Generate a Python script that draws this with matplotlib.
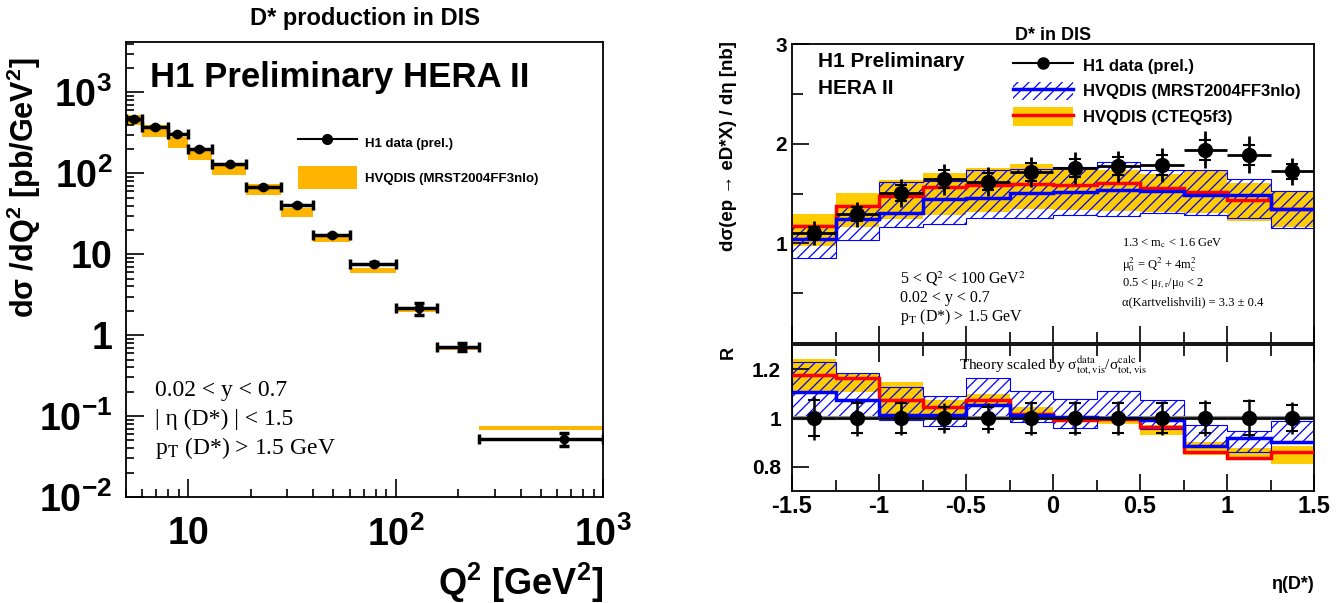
import numpy as np
import matplotlib
matplotlib.use('Agg')
import matplotlib.pyplot as plt
from matplotlib.ticker import LogLocator, NullFormatter, FixedLocator, FixedFormatter, MultipleLocator
from matplotlib.patches import Patch
from matplotlib.lines import Line2D

plt.rcParams['font.family'] = ['Liberation Sans', 'DejaVu Sans']
plt.rcParams['font.weight'] = 'normal'
plt.rcParams['mathtext.fontset'] = 'custom'
plt.rcParams['mathtext.rm'] = 'Liberation Sans:bold'
plt.rcParams['mathtext.it'] = 'Liberation Sans:bold:italic'
plt.rcParams['mathtext.bf'] = 'Liberation Sans:bold'
plt.rcParams['hatch.linewidth'] = 0.9

# ---- left: d sigma / dQ2 ----
q2_edges = [5, 6, 8, 10, 13, 19, 28, 40, 60, 100, 158, 251, 1000]
q2_pts = [5.45, 6.93, 8.85, 11.3, 15.8, 22.9, 33.3, 49.3, 78.4, 129, 208, 646]
dsig_q2 = [472, 373, 304, 199, 129, 67.3, 41.0, 17.1, 7.67, 2.15, 0.716, 0.0516]
dsig_q2_err = [10, 8, 7, 5, 3, 1.5, 1.0, 0.5, 0.25, 0.35, 0.085, 0.0095]
mrst_q2_lo = [395, 282, 208, 148, 95.5, 54, 28.8, 14.3, 5.8, 1.95, 0.665, 0.067]
mrst_q2_hi = [525, 392, 282, 202, 127, 74, 37.3, 17.2, 6.8, 2.1, 0.70, 0.075]

# ---- right: d sigma / d eta and ratio ----
eta_edges = [-1.5, -1.25, -1.0, -0.75, -0.5, -0.25, 0.0, 0.25, 0.5, 0.75, 1.0, 1.25, 1.5]
eta_pts = [-1.375, -1.125, -0.875, -0.625, -0.375, -0.125, 0.125, 0.375, 0.625, 0.875, 1.125, 1.375]
dsig_eta = [1.10, 1.29, 1.507, 1.643, 1.617, 1.717, 1.757, 1.773, 1.783, 1.94, 1.89, 1.723]
eta_err_tot = [0.12, 0.125, 0.14, 0.155, 0.147, 0.153, 0.158, 0.158, 0.172, 0.183, 0.183, 0.138]
eta_err_stat = [0.06, 0.07, 0.08, 0.09, 0.085, 0.09, 0.09, 0.09, 0.10, 0.10, 0.10, 0.075]
cteq_eta = [1.177, 1.373, 1.477, 1.567, 1.59, 1.60, 1.59, 1.61, 1.557, 1.517, 1.433, 1.343]
cteq_eta_lo = [0.97, 1.167, 1.24, 1.283, 1.317, 1.34, 1.333, 1.327, 1.317, 1.307, 1.227, 1.167]
cteq_eta_hi = [1.293, 1.507, 1.633, 1.707, 1.76, 1.793, 1.767, 1.733, 1.70, 1.733, 1.607, 1.527]
mrst_eta = [1.045, 1.24, 1.307, 1.44, 1.45, 1.507, 1.517, 1.533, 1.523, 1.483, 1.483, 1.343]
mrst_eta_lo = [0.857, 1.033, 1.16, 1.193, 1.25, 1.25, 1.283, 1.273, 1.30, 1.283, 1.25, 1.15]
mrst_eta_hi = [1.18, 1.37, 1.617, 1.627, 1.733, 1.75, 1.767, 1.817, 1.74, 1.733, 1.65, 1.527]

r_data = [1.0] * 12
r_err_tot = [0.09, 0.075, 0.07, 0.06, 0.06, 0.07, 0.07, 0.07, 0.07, 0.075, 0.08, 0.065]
r_err_stat = [0.073, 0.06, 0.06, 0.045, 0.045, 0.06, 0.06, 0.06, 0.06, 0.06, 0.07, 0.055]
r_cteq = [1.177, 1.163, 1.076, 1.045, 1.076, 1.018, 0.99, 0.997, 0.963, 0.861, 0.834, 0.861]
r_cteq_lo = [1.106, 1.106, 1.018, 1.018, 1.045, 1.008, 0.984, 0.975, 0.929, 0.848, 0.83, 0.81]
r_cteq_hi = [1.242, 1.184, 1.15, 1.072, 1.099, 1.045, 0.997, 1.0, 0.973, 0.90, 0.875, 0.885]
r_mrst = [1.106, 1.076, 1.011, 1.014, 1.052, 1.014, 1.004, 1.0, 0.99, 0.886, 0.916, 0.902]
r_mrst_lo = [0.997, 1.0, 0.99, 0.967, 1.0, 0.984, 0.959, 0.99, 0.956, 0.886, 0.861, 0.902]
r_mrst_hi = [1.229, 1.184, 1.127, 1.09, 1.163, 1.11, 1.079, 1.11, 1.072, 0.973, 0.946, 0.986]

orange = '#ffb400'
yellow = '#ffcc00'
blue = '#0000ff'
red = '#ff0000'


def bold_ticks(a):
    plt.setp(a.get_xticklabels() + a.get_yticklabels(), fontweight='bold')


fig = plt.figure(figsize=(13.42, 6.03), dpi=100)

# ================= left panel =================
ax = fig.add_axes([126/1342, 106/603, 477/1342, 455/603])
q2e = np.array(q2_edges, float)
ax.bar(q2e[:-1], np.array(mrst_q2_hi) - np.array(mrst_q2_lo), bottom=mrst_q2_lo,
       width=np.diff(q2e), align='edge', color=orange, lw=0, zorder=1)
q2p = np.array(q2_pts)
ax.errorbar(q2p, dsig_q2, xerr=[q2p - q2e[:-1], q2e[1:] - q2p], yerr=dsig_q2_err,
            fmt='o', color='k', ms=6, elinewidth=2.5, capsize=3.5, capthick=2.5, zorder=3)
ax.set_xscale('log')
ax.set_yscale('log')
ax.set_xlim(5, 1000)
ax.set_ylim(0.01, 4200)
ax.xaxis.set_major_locator(FixedLocator([10, 100, 1000]))
ax.xaxis.set_major_formatter(FixedFormatter(['10', '10$^{2}$', '10$^{3}$']))
ax.xaxis.set_minor_locator(LogLocator(base=10, subs=np.arange(2, 10), numticks=20))
ax.xaxis.set_minor_formatter(NullFormatter())
ax.yaxis.set_major_locator(FixedLocator([0.01, 0.1, 1, 10, 100, 1000]))
ax.yaxis.set_major_formatter(FixedFormatter(['10$^{-2}$', '10$^{-1}$', '1', '10', '10$^{2}$', '10$^{3}$']))
ax.yaxis.set_minor_locator(LogLocator(base=10, subs=np.arange(2, 10), numticks=20))
ax.yaxis.set_minor_formatter(NullFormatter())
ax.tick_params(which='both', direction='in', top=False, right=False, width=1.2)
ax.tick_params(which='major', length=13, labelsize=27, pad=10)
ax.tick_params(axis='x', which='major', pad=14)
ax.tick_params(which='minor', length=6)
bold_ticks(ax)
for s in ax.spines.values():
    s.set_linewidth(1.3)
ax.set_ylabel('d\u03c3 /dQ$^{2}$ [pb/GeV$^{2}$]', fontsize=22, fontweight='bold')
ax.yaxis.set_label_coords(-0.175, 0.68)
ax.set_xlabel('Q$^{2}$ [GeV$^{2}$]', fontsize=26, fontweight='bold')
ax.xaxis.set_label_coords(1.0, -0.14)
ax.xaxis.label.set_ha('right')
ax.set_title('D* production in DIS', fontsize=17, fontweight='bold', pad=12)
ax.text(0.05, 0.922, 'H1 Preliminary HERA II', transform=ax.transAxes, fontsize=25,
        fontweight='bold', va='center')

h_dat = Line2D([], [], color='k', marker='o', ms=7, lw=1.5)
h_th = Patch(facecolor=orange, lw=0)
ax.legend([h_dat, h_th], ['H1 data (prel.)', 'HVQDIS (MRST2004FF3nlo)'],
          loc='upper left', bbox_to_anchor=(0.335, 0.83), frameon=False,
          prop={'size': 9.5, 'weight': 'bold'}, handlelength=4.5, handleheight=2.3,
          labelspacing=0.9, handletextpad=0.6)

ser = dict(transform=ax.transAxes, fontsize=17, fontfamily='Liberation Serif',
           fontweight='normal', math_fontfamily='stix', va='center')
ax.text(0.06, 0.233, '0.02 < y < 0.7', **ser)
ax.text(0.06, 0.17, '| \u03b7 (D*) | < 1.5', **ser)
ax.text(0.06, 0.107, 'p$_{\\mathrm{T}}$ (D*) > 1.5 GeV', **ser)

# ================= right top panel =================
ax1 = fig.add_axes([792/1342, 260/603, 522/1342, 299/603])
ax1.stairs(cteq_eta_hi, eta_edges, baseline=cteq_eta_lo, fill=True, color=yellow, lw=0, zorder=1)
ax1.stairs(mrst_eta_hi, eta_edges, baseline=mrst_eta_lo, fill=True, facecolor='none',
           edgecolor=blue, hatch='///', lw=0.8, zorder=2)
ax1.stairs(cteq_eta, eta_edges, baseline=None, color=red, lw=2.5, zorder=3)
ax1.stairs(mrst_eta, eta_edges, baseline=None, color=blue, lw=2.5, zorder=3)
etap = np.array(eta_pts)
half = np.diff(np.array(eta_edges)) / 2
ax1.errorbar(etap, dsig_eta, xerr=half, yerr=eta_err_tot, fmt='o', color='k', ms=10,
             elinewidth=2, capsize=0, zorder=5)
ax1.errorbar(etap, dsig_eta, yerr=eta_err_stat, fmt='none', ecolor='k', elinewidth=0,
             capsize=4, capthick=1.5, zorder=5)
ax1.set_xlim(-1.5, 1.5)
ax1.set_ylim(0, 3)
ax1.yaxis.set_major_locator(FixedLocator([1, 2, 3]))
ax1.yaxis.set_minor_locator(FixedLocator([0.5, 1.5, 2.5]))
ax1.xaxis.set_major_locator(MultipleLocator(0.5))
ax1.xaxis.set_minor_locator(MultipleLocator(0.25))
ax1.tick_params(which='both', direction='in', top=False, right=False, labelbottom=False, width=1.2)
ax1.tick_params(which='major', length=12, labelsize=15)
ax1.tick_params(which='minor', length=8)
bold_ticks(ax1)
for s in ax1.spines.values():
    s.set_linewidth(1.3)
ax1.set_ylabel('d\u03c3(ep \u2192 eD*X) / d\u03b7 [nb]', fontsize=13.5, fontweight='bold')
ax1.yaxis.set_label_coords(-0.105, 0.66)
ax1.set_title('D* in DIS', fontsize=13, fontweight='bold', pad=3)
ax1.text(0.05, 0.94, 'H1 Preliminary', transform=ax1.transAxes, fontsize=15, fontweight='bold', va='center')
ax1.text(0.05, 0.85, 'HERA II', transform=ax1.transAxes, fontsize=15, fontweight='bold', va='center')

h_mrst = (Patch(facecolor='none', edgecolor=blue, hatch='///', lw=0), Line2D([], [], color=blue, lw=2.5))
h_cteq = (Patch(facecolor=yellow, lw=0), Line2D([], [], color=red, lw=2.5))
h_d = Line2D([], [], color='k', marker='o', ms=8, lw=1.5)
ax1.legend([h_d, h_mrst, h_cteq], ['H1 data (prel.)', 'HVQDIS (MRST2004FF3nlo)', 'HVQDIS (CTEQ5f3)'],
           loc='upper left', bbox_to_anchor=(0.395, 1.01), frameon=False,
           prop={'size': 12, 'weight': 'bold'}, handlelength=3.6, handleheight=1.3,
           labelspacing=0.45, handletextpad=0.6)

ser1 = dict(transform=ax1.transAxes, fontfamily='Liberation Serif', fontweight='normal',
            math_fontfamily='stix', va='center')
ax1.text(0.207, 0.215, '5 < Q$^{2}$ < 100 GeV$^{2}$', fontsize=11.5, **ser1)
ax1.text(0.207, 0.152, '0.02 < y < 0.7', fontsize=11.5, **ser1)
ax1.text(0.207, 0.088, 'p$_{\\mathrm{T}}$ (D*) > 1.5 GeV', fontsize=11.5, **ser1)
ax1.text(0.632, 0.333, '1.3 < m$_{\\mathrm{c}}$ < 1.6 GeV', fontsize=9, **ser1)
ax1.text(0.632, 0.263, '\u03bc$_{0}^{2}$ = Q$^{2}$ + 4m$_{\\mathrm{c}}^{2}$', fontsize=9, **ser1)
ax1.text(0.632, 0.2, '0.5 < \u03bc$_{\\mathrm{f,r}}$/\u03bc$_{0}$ < 2', fontsize=9, **ser1)
ax1.text(0.632, 0.135, '\u03b1(Kartvelishvili) = 3.3 \u00b1 0.4', fontsize=9, **ser1)

# ================= right bottom panel (ratio) =================
ax2 = fig.add_axes([792/1342, 112/603, 522/1342, 146/603])
ax2.stairs(r_cteq_hi, eta_edges, baseline=r_cteq_lo, fill=True, color=yellow, lw=0, zorder=1)
ax2.stairs(r_mrst_hi, eta_edges, baseline=r_mrst_lo, fill=True, facecolor='none',
           edgecolor=blue, hatch='///', lw=0.8, zorder=2)
ax2.axhline(1.0, color='0.55', lw=3, zorder=2.5)
ax2.stairs(r_cteq, eta_edges, baseline=None, color=red, lw=2.5, zorder=3)
ax2.stairs(r_mrst, eta_edges, baseline=None, color=blue, lw=2.5, zorder=3)
ax2.errorbar(etap, r_data, xerr=half, yerr=r_err_tot, fmt='o', color='k', ms=10,
             elinewidth=1.8, capsize=0, zorder=5)
ax2.errorbar(etap, r_data, yerr=r_err_stat, fmt='none', ecolor='k', elinewidth=0,
             capsize=4, capthick=1.5, zorder=5)
ax2.set_xlim(-1.5, 1.5)
ax2.set_ylim(0.7, 1.3)
ax2.yaxis.set_major_locator(FixedLocator([0.8, 1.0, 1.2]))
ax2.yaxis.set_major_formatter(FixedFormatter(['0.8', '1', '1.2']))
ax2.xaxis.set_major_locator(FixedLocator([-1.5, -1, -0.5, 0, 0.5, 1, 1.5]))
ax2.xaxis.set_major_formatter(FixedFormatter(['-1.5', '-1', '-0.5', '0', '0.5', '1', '1.5']))
ax2.xaxis.set_minor_locator(MultipleLocator(0.25))
ax2.tick_params(which='both', direction='in', top=True, right=False, width=1.2)
ax2.tick_params(which='major', length=12, labelsize=15, pad=8)
ax2.tick_params(axis='x', which='major', labelsize=17, pad=3)
ax2.tick_params(which='minor', length=8)
bold_ticks(ax2)
for s in ax2.spines.values():
    s.set_linewidth(1.3)
ax2.set_ylabel('R', fontsize=13, fontweight='bold')
ax2.yaxis.set_label_coords(-0.105, 0.95)
ax2.text(0.5, 0.86, 'Theory scaled by \u03c3$^{\\mathrm{data}}_{\\mathrm{tot,vis}}$/\u03c3$^{\\mathrm{calc}}_{\\mathrm{tot,vis}}$',
         transform=ax2.transAxes, ha='center', va='center', fontsize=11,
         fontfamily='Liberation Serif', fontweight='normal', math_fontfamily='stix')
ax2.set_xlabel('\u03b7(D*)', fontsize=13, fontweight='bold')
ax2.xaxis.set_label_coords(1.0, -0.58)
ax2.xaxis.label.set_ha('right')

fig.savefig('out.png', dpi=100)
